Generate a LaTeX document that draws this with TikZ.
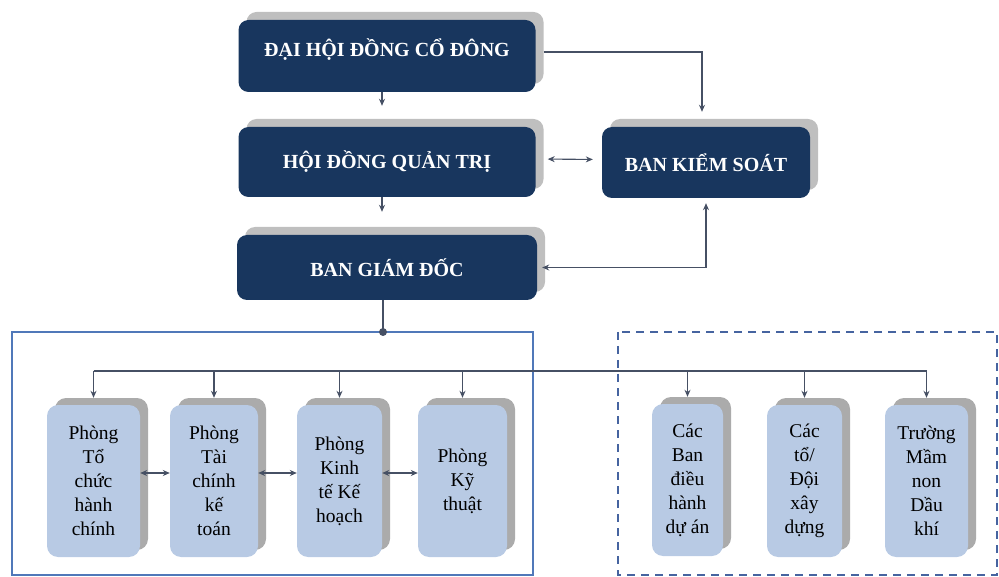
\documentclass[tikz,border=0pt]{standalone}
\usepackage{fontspec}
\setmainfont{Liberation Serif}
\usetikzlibrary{shadows,arrows.meta}
\definecolor{boardnavy}{RGB}{24,54,94}
\definecolor{deptblue}{RGB}{184,202,228}
\definecolor{linegray}{RGB}{70,80,100}
\definecolor{frameblue}{RGB}{80,120,185}
\definecolor{framedash}{RGB}{70,100,160}
\tikzset{
  board/.style={
    rectangle,
    rounded corners=10pt,
    fill=boardnavy,
    text=white,
    font=\bfseries\fontsize{20}{24}\selectfont,
    inner sep=0pt,
    drop shadow={shadow xshift=8pt, shadow yshift=8pt, fill=black!25, opacity=1}
  },
  dept/.style={
    rectangle,
    rounded corners=11pt,
    fill=deptblue,
    align=center,
    font=\fontsize{19.5}{24}\selectfont,
    inner sep=0pt,
    minimum height=152pt,
    drop shadow={shadow xshift=8pt, shadow yshift=7pt, fill=black!33, opacity=1}
  },
  link/.style={draw=linegray, line width=1.1pt, -{Stealth[length=7pt,width=6pt]}},
  link-both/.style={link, {Stealth[length=7pt,width=6pt]}-{Stealth[length=7pt,width=6pt]}},
  junction/.style={circle, fill=linegray, minimum size=8pt, inner sep=0pt},
  main-frame/.style={draw=frameblue, line width=1.5pt},
  side-frame/.style={draw=framedash, line width=1.3pt, dash pattern=on 8pt off 6pt}
}

\begin{document}
\begin{tikzpicture}[x=1pt, y=-1pt]
  \useasboundingbox (0,0) rectangle (999,577);

  % Management boxes
  \node[board, minimum width=297pt, minimum height=72pt, text depth=16pt] (dhdcd) at (387,56) {ĐẠI HỘI ĐỒNG CỔ ĐÔNG};
  \node[board, minimum width=297pt, minimum height=70pt] (hdqt) at (387,162) {HỘI ĐỒNG QUẢN TRỊ};
  \node[board, minimum width=208pt, minimum height=71pt] (bks) at (706,162.5) {BAN KIỂM SOÁT};
  \node[board, minimum width=300pt, minimum height=65pt] (bgd) at (387,267.5) {BAN GIÁM ĐỐC};

  \draw[link, shorten >=21pt] ([xshift=-5pt]dhdcd.south) -- ([xshift=-5pt]hdqt.north);
  \draw[link, shorten >=15pt] ([shift={(8pt,4pt)}]dhdcd.east) -| ([xshift=-4pt]bks.north);
  \draw[link-both, shorten <=12pt, shorten >=9pt] ([yshift=3pt]hdqt.east) -- ([yshift=3pt]bks.west);
  \draw[link, shorten >=23pt] ([xshift=-5pt]hdqt.south) -- ([xshift=-5pt]bgd.north);
  \draw[link-both, shorten <=5pt, shorten >=5pt] (bgd.east) -| (bks.south);

  % Frames
  \coordinate (mainNW) at (12,332);
  \coordinate (mainSE) at (533,575);
  \coordinate (sideNW) at (618,332);
  \coordinate (sideSE) at (997,575);
  \draw[main-frame] (mainNW) rectangle (mainSE);
  \draw[side-frame] (sideNW) rectangle (sideSE);

  \draw[draw=linegray, line width=1.1pt] ([xshift=-4pt]bgd.south) -- ([xshift=-4pt]bgd.south |- mainNW) node[junction] (jn) {};

  % Departments
  \node[dept, minimum width=93pt] (pTCHC) at (93.5,481) {Phòng\\Tổ\\chức\\hành\\chính};
  \node[dept, minimum width=88pt] (pTCKT) at (214,481) {Phòng\\Tài\\chính\\kế\\toán};
  \node[dept, minimum width=85pt] (pKTKH) at (339.5,481) {Phòng\\Kinh\\tế Kế\\hoạch};
  \node[dept, minimum width=89pt] (pKT) at (462.5,481) {Phòng\\Kỹ\\thuật};
  \node[dept, minimum width=71pt] (bDHDA) at (687.5,480) {Các\\Ban\\điều\\hành\\dự án};
  \node[dept, minimum width=75pt] (tDXD) at (804.5,481) {Các\\tổ/\\Đội\\xây\\dựng};
  \node[dept, minimum width=83pt] (tMNDK) at (926.5,481) {Trường\\Mầm\\non\\Dầu\\khí};

  \coordinate (bus) at (0,371);
  \draw[draw=linegray, line width=1.1pt] (pTCHC.north |- bus) -- (tMNDK.north |- bus);
  \foreach \d in {pTCHC,pTCKT,pKTKH,pKT,bDHDA,tDXD,tMNDK}{
    \draw[link, shorten >=7pt] (\d.north |- bus) -- (\d.north);
  }
  \foreach \a/\b in {pTCHC/pTCKT,pTCKT/pKTKH,pKTKH/pKT}{
    \draw[link-both] ([yshift=8pt]\a.east) -- ([yshift=8pt]\b.west);
  }
\end{tikzpicture}
\end{document}
